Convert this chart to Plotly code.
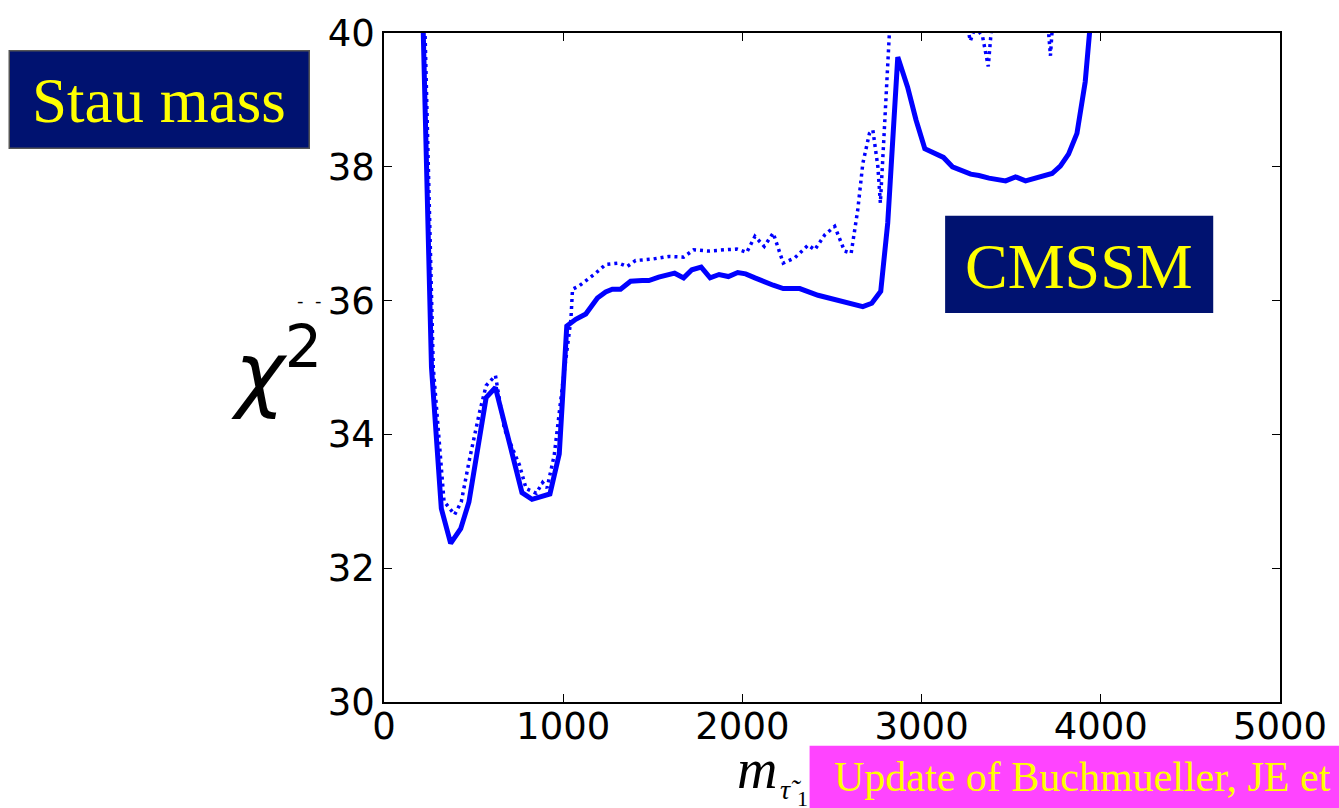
import plotly.graph_objects as go

# ---- data ----
solid_m = [210, 265, 320, 372, 428, 474, 570, 622, 770, 826, 926, 978, 1020, 1070, 1126,
           1191, 1237, 1274, 1320, 1376, 1441, 1478, 1533, 1622, 1672, 1718, 1770, 1820,
           1870, 1922, 1974, 2018, 2070, 2117, 2172, 2228, 2320, 2422, 2506, 2580, 2672,
           2722, 2772, 2811, 2867, 2922, 2969, 3018, 3070, 3122, 3172, 3219, 3274, 3320,
           3376, 3469, 3524, 3580, 3630, 3681, 3728, 3774, 3820, 3867, 3913, 3937, 3960]
solid_chi2 = [41.0, 35.0, 32.89, 32.37, 32.59, 32.99, 34.55, 34.70, 33.13, 33.03, 33.11,
              33.71, 35.62, 35.72, 35.80, 36.04, 36.13, 36.17, 36.17, 36.29, 36.30, 36.30,
              36.35, 36.41, 36.34, 36.46, 36.50, 36.34, 36.39, 36.36, 36.42, 36.40, 36.34,
              36.28, 36.23, 36.18, 36.18, 36.08, 36.02, 35.96, 35.91, 35.96, 36.14, 37.16,
              39.64, 39.19, 38.70, 38.27, 38.20, 38.14, 38.00, 37.94, 37.89, 37.87, 37.83,
              37.79, 37.85, 37.79, 37.83, 37.88, 37.90, 38.01, 38.19, 38.50, 39.27, 40.0, 41.0]

dotted_m = [220, 275, 335, 394, 431, 478, 533, 570, 622, 672, 756, 793, 850, 885, 910, 950,
            996, 1043, 1052, 1089, 1181, 1237, 1311, 1357, 1404, 1496, 1589, 1672, 1728,
            1811, 1904, 1969, 2024, 2070, 2122, 2172, 2228, 2293, 2367, 2404, 2459, 2515,
            2570, 2607, 2644, 2672, 2709, 2728, 2756, 2770, 2789, 2815, 2830, 3000, 3240,
            3272, 3300, 3340, 3372, 3400, 3550, 3700, 3719, 3735, 3960]
dotted_chi2 = [41.0, 35.0, 33.0, 32.80, 32.99, 33.64, 34.33, 34.73, 34.88, 34.08, 33.54,
               33.19, 33.12, 33.28, 33.20, 33.69, 34.73, 35.72, 36.17, 36.22, 36.41, 36.54,
               36.56, 36.51, 36.60, 36.62, 36.66, 36.65, 36.76, 36.74, 36.76, 36.77, 36.72,
               36.96, 36.81, 37.01, 36.56, 36.64, 36.83, 36.76, 36.98, 37.11, 36.74, 36.71,
               37.36, 38.05, 38.50, 38.55, 38.00, 37.46, 38.40, 39.94, 40.5, 40.6, 40.3,
               39.88, 40.1, 39.95, 39.5, 40.4, 40.6, 40.3, 39.66, 40.3, 41.0]

x_ticks = [0, 1000, 2000, 3000, 4000, 5000]
y_ticks = [30, 32, 34, 36, 38, 40]

# ---- layout geometry (pixels) ----
W, H = 1339, 808
L, R, T, B = 384, 1283, 28, 702


def px(x):
    return (x - L) / (R - L)


def py(y):
    return (B - y) / (B - T)


NAVY = "#001270"
YELLOW = "#FFFF00"
PINK = "#FF44FF"
BLUE = "#0000FF"

fig = go.Figure()
fig.add_trace(go.Scatter(x=dotted_m, y=dotted_chi2, mode="lines",
                         line=dict(color=BLUE, width=3.5, dash="3px,4px"),
                         showlegend=False, hoverinfo="skip"))
fig.add_trace(go.Scatter(x=solid_m, y=solid_chi2, mode="lines",
                         line=dict(color=BLUE, width=5),
                         showlegend=False, hoverinfo="skip"))

axis_common = dict(showgrid=False, zeroline=False, showline=True, linecolor="black",
                   linewidth=1.5, mirror="allticks", ticks="inside", ticklen=8,
                   tickwidth=1, tickcolor="black",
                   tickfont=dict(family="DejaVu Sans", size=37, color="black"))

fig.update_xaxes(range=[0, 5000], tickvals=x_ticks,
                 ticktext=[str(v) for v in x_ticks], ticklabelstandoff=-9, **axis_common)
fig.update_yaxes(range=[30, 40], tickvals=y_ticks,
                 ticktext=[str(v) for v in y_ticks], ticklabelstandoff=0, **axis_common)

shapes = [
    dict(type="rect", xref="paper", yref="paper", x0=px(8), x1=px(309), y0=py(144), y1=py(46),
         fillcolor=NAVY, line=dict(color="#555555", width=1.5), layer="above"),
    dict(type="rect", xref="paper", yref="paper", x0=px(947), x1=px(1216), y0=py(310), y1=py(212),
         fillcolor=NAVY, line=dict(width=0), layer="above"),
    dict(type="rect", xref="paper", yref="paper", x0=px(811), x1=px(1360), y0=py(830), y1=py(746),
         fillcolor=PINK, line=dict(width=0), layer="above"),
]

annotations = [
    dict(text="Stau mass", xref="paper", yref="paper", x=px(158), y=py(97),
         xanchor="center", yanchor="middle", showarrow=False,
         font=dict(family="Liberation Serif", size=63, color=YELLOW)),
    dict(text="CMSSM", xref="paper", yref="paper", x=px(1081), y=py(263),
         xanchor="center", yanchor="middle", showarrow=False,
         font=dict(family="Liberation Serif", size=64, color=YELLOW)),
    dict(text="Update of Buchmueller, JE et al", xref="paper", yref="paper", x=px(834), y=py(778),
         xanchor="left", yanchor="middle", showarrow=False,
         font=dict(family="Liberation Serif", size=42, color=YELLOW)),
    dict(text="<i>χ</i><sup>2</sup>",
         xref="paper", yref="paper", x=px(276), y=py(364),
         xanchor="center", yanchor="middle", showarrow=False,
         font=dict(family="DejaVu Sans", size=84, color="black")),
    dict(text="-  -", xref="paper", yref="paper", x=px(309), y=py(297),
         xanchor="center", yanchor="middle", showarrow=False,
         font=dict(family="DejaVu Sans", size=18, color="black")),
    dict(text="<i>m</i>", xref="paper", yref="paper", x=px(758), y=py(770),
         xanchor="center", yanchor="middle", showarrow=False,
         font=dict(family="Liberation Serif", size=56, color="black")),
    dict(text="<i>τ̃</i>", xref="paper", yref="paper", x=px(792), y=py(790),
         xanchor="center", yanchor="middle", showarrow=False,
         font=dict(family="Liberation Serif", size=28, color="black")),
    dict(text="1", xref="paper", yref="paper", x=px(804), y=py(799),
         xanchor="center", yanchor="middle", showarrow=False,
         font=dict(family="Liberation Serif", size=22, color="black")),
]

fig.update_layout(width=W, height=H, margin=dict(l=L, r=W - R, t=T, b=H - B),
                  paper_bgcolor="white", plot_bgcolor="white",
                  shapes=shapes, annotations=annotations, showlegend=False)

fig.write_html("out.html", config={"displayModeBar": False},
               post_script="document.body.style.margin='0';document.body.style.overflow='hidden';")
